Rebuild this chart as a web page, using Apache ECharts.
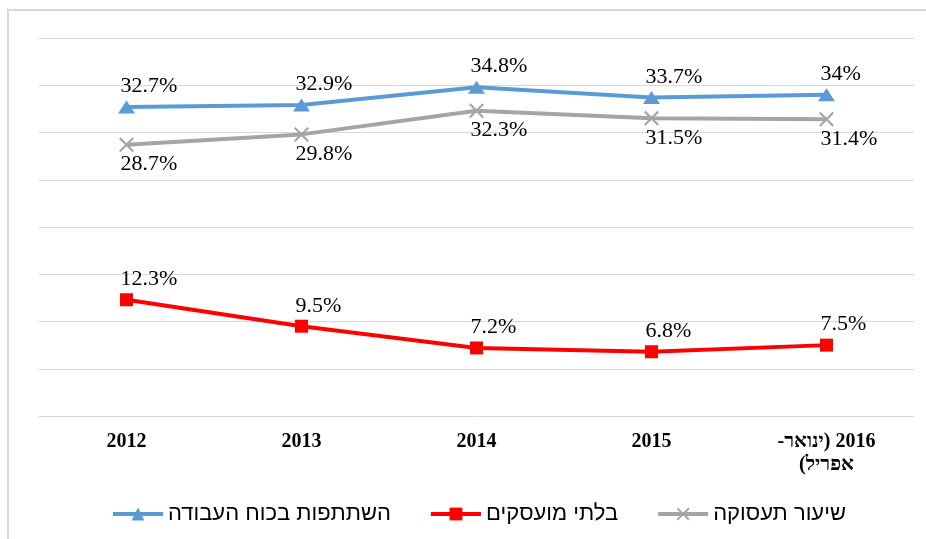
<!DOCTYPE html>
<html>
<head>
<meta charset="utf-8">
<script src="https://cdn.jsdelivr.net/npm/echarts@6/dist/echarts.min.js"></script>
<style>
  html, body { margin: 0; padding: 0; background: #fff; }
  #main { width: 926px; height: 539px; }
</style>
</head>
<body>
<div id="main"></div>
<script>
// RLE ... PDF keep the Hebrew line right-to-left, as in the original
var years = ['2012', '2013', '2014', '2015', '\u202B2016 (ינואר-\u202C\n\u202Bאפריל)\u202C'];
var seriesNames = ['השתתפות בכוח העבודה', 'בלתי מועסקים', 'שיעור תעסוקה'];
var participation = [32.7, 32.9, 34.8, 33.7, 34];
var unemployed = [12.3, 9.5, 7.2, 6.8, 7.5];
var employment = [28.7, 29.8, 32.3, 31.5, 31.4];

var crossPath = 'path://M0,1L1,0L5,4L9,0L10,1L6,5L10,9L9,10L5,6L1,10L0,9L4,5Z';

var chart = echarts.init(document.getElementById('main'), null, { renderer: 'canvas' });

function pctLabel(pos, dist) {
  return {
    show: true,
    position: pos,
    distance: dist,
    align: 'left',
    offset: [-6, 0],
    fontFamily: '"Liberation Serif", serif',
    fontSize: 22,
    color: '#000',
    formatter: function (p) { return p.value + '%'; }
  };
}

var option = {
  backgroundColor: '#fff',
  animation: false,
  graphic: [
    {
      type: 'rect',
      shape: { x: 8, y: 10, width: 940, height: 560 },
      style: { fill: 'none', stroke: '#d9d9d9', lineWidth: 2 },
      silent: true
    }
  ],
  grid: {
    left: 39,
    right: 12,
    top: 38,
    bottom: 123
  },
  legend: {
    left: 106,
    top: 498,
    itemWidth: 50,
    itemHeight: 16,
    itemGap: 38,
    lineStyle: { width: 4 },
    textStyle: {
      fontFamily: '"Liberation Sans", Arial, sans-serif',
      fontSize: 22,
      color: '#000'
    },
    data: seriesNames
  },
  xAxis: {
    type: 'category',
    data: years,
    axisLine: { lineStyle: { color: '#d9d9d9', width: 1 } },
    axisTick: { show: false },
    axisLabel: {
      margin: 14,
      fontFamily: '"Liberation Serif", serif',
      fontSize: 20,
      fontWeight: 'bold',
      lineHeight: 23,
      color: '#000'
    }
  },
  yAxis: {
    type: 'value',
    min: 0,
    max: 40,
    interval: 5,
    axisLabel: { show: false },
    axisLine: { show: false },
    axisTick: { show: false },
    splitLine: { lineStyle: { color: '#d9d9d9', width: 1 } }
  },
  series: [
    {
      name: seriesNames[0],
      type: 'line',
      data: participation,
      symbol: 'triangle',
      symbolSize: [17, 13],
      lineStyle: { color: '#5B9BD5', width: 4 },
      itemStyle: { color: '#5B9BD5' },
      label: pctLabel('top', 3),
      z: 3
    },
    {
      name: seriesNames[1],
      type: 'line',
      data: unemployed,
      symbol: 'rect',
      symbolSize: 13,
      lineStyle: { color: '#FF0000', width: 4 },
      itemStyle: { color: '#FF0000' },
      label: pctLabel('top', 3),
      z: 3
    },
    {
      name: seriesNames[2],
      type: 'line',
      data: employment,
      symbol: crossPath,
      symbolSize: 15,
      lineStyle: { color: '#A5A5A5', width: 4 },
      itemStyle: { color: '#A5A5A5' },
      label: pctLabel('bottom', 1),
      z: 2
    }
  ]
};

chart.setOption(option);
</script>
</body>
</html>
